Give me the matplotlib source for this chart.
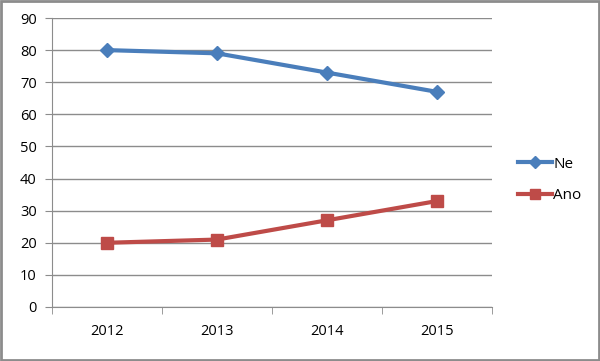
import matplotlib.pyplot as plt
from matplotlib.ticker import FixedLocator

years = ["2012", "2013", "2014", "2015"]
ne = [80, 79, 73, 67]
ano = [20, 21, 27, 33]

plt.rcParams['font.family'] = ['Open Sans', 'DejaVu Sans']
grid_col = "#8c8c8c"

fig = plt.figure(figsize=(6, 3.61), dpi=100)
ax = fig.add_axes([52 / 600, 1 - 307 / 361, 440 / 600, 289 / 361])

x = range(len(years))
ax.plot(x, ne, color="#4a7ebb", lw=3, marker="D", ms=7.5, label="Ne")
ax.plot(x, ano, color="#be4b48", lw=3, marker="s", ms=8.5, label="Ano")

ax.set_xlim(-0.5, 3.5)
ax.set_ylim(0, 90)
ax.set_yticks(range(0, 91, 10))
ax.set_xticks(list(x))
ax.set_xticklabels(years)
ax.xaxis.set_minor_locator(FixedLocator([-0.5, 0.5, 1.5, 2.5, 3.5]))
ax.tick_params(axis="x", which="major", length=0, pad=12, labelsize=10.5)
ax.tick_params(axis="x", which="minor", length=5, color=grid_col)
ax.tick_params(axis="y", length=5, color=grid_col, labelsize=10.5, pad=6)
ax.grid(axis="y", color=grid_col, lw=1)
ax.set_axisbelow(True)
for s in ["top", "right"]:
    ax.spines[s].set_visible(False)
for s in ["left", "bottom"]:
    ax.spines[s].set_color(grid_col)

fig.legend(loc="center left", bbox_to_anchor=(512 / 600, 1 - 180 / 361),
           frameon=False, fontsize=11, handlelength=2.2, labelspacing=1.1,
           handletextpad=0.1, markerscale=0.8, borderaxespad=0)

fig.patches.append(plt.Rectangle((0.002, 0.003), 0.996, 0.994, transform=fig.transFigure,
                                 fill=False, edgecolor="#8c8c8c", lw=2))
fig.savefig("out.png", dpi=100)
